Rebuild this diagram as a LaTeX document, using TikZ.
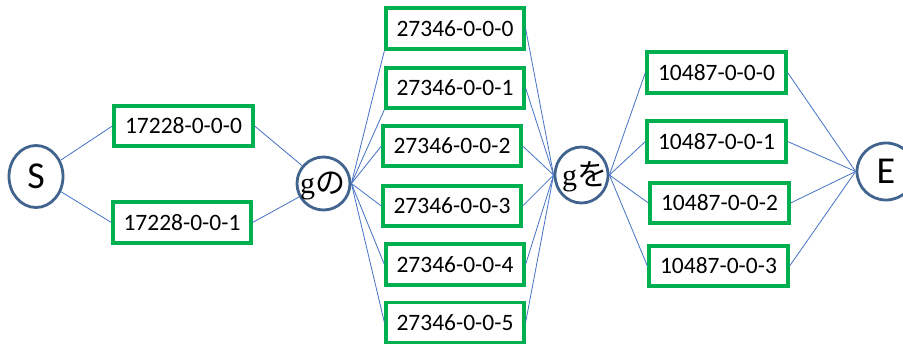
\documentclass[tikz,border=0pt]{standalone}
\usepackage{fontspec}
\setmainfont{Carlito}
\newfontfamily\cjk{Noto Sans CJK JP}
\newfontfamily\serifg{Liberation Serif}
\usetikzlibrary{shapes.geometric}
\definecolor{boxgreen}{HTML}{00B050}
\definecolor{circblue}{HTML}{41648F}
\definecolor{linkblue}{HTML}{4472C4}
\tikzset{
  idbox/.style={draw=boxgreen, line width=3.2pt, fill=white, rectangle, minimum width=138pt, minimum height=40pt, inner sep=0pt, font=\fontsize{23.5}{28}\selectfont},
  roundnode/.style={draw=circblue, line width=2.8pt, fill=white, ellipse, inner sep=0pt},
  endtext/.style={font=\fontsize{38}{40}\selectfont, inner sep=0pt},
  midtext/.style={font=\fontsize{30}{34}\selectfont, inner sep=0pt},
  link/.style={draw=linkblue, line width=0.8pt}
}
\begin{document}
\begin{tikzpicture}[x=1pt, y=-1pt]
\clip (0,0) rectangle (903,343);
\fill[white] (0,0) rectangle (903,343);
% circle nodes
\node[roundnode, minimum width=54pt, minimum height=62pt,
      label={[endtext]center:S}] (S) at (36,176.5) {};
\node[roundnode, minimum width=53pt, minimum height=53pt,
      label={[midtext, xshift=-1pt, yshift=-2pt]center:{\serifg g}{\cjk の}}] (gno) at (323.5,183.5) {};
\node[roundnode, minimum width=53pt, minimum height=56pt,
      label={[midtext, xshift=3pt, yshift=-2pt]center:{\serifg g}{\cjk を}}] (gwo) at (581.5,175) {};
\node[roundnode, minimum width=58pt, minimum height=57pt,
      label={[endtext]center:E}] (E) at (886,171.5) {};
% first column
\node[idbox, minimum width=139pt] (a0) at (183.5,126) {17228-0-0-0};
\node[idbox, minimum height=41pt] (a1) at (182,222.5) {17228-0-0-1};
% second column
\node[idbox, minimum height=41pt] (b0) at (455,28.5) {27346-0-0-0};
\node[idbox] (b1) at (455,88) {27346-0-0-1};
\node[idbox] (b2) at (452,146) {27346-0-0-2};
\node[idbox] (b3) at (452,206) {27346-0-0-3};
\node[idbox, minimum height=41pt] (b4) at (455,264.5) {27346-0-0-4};
\node[idbox] (b5) at (455,322.5) {27346-0-0-5};
% third column
\node[idbox, minimum width=139pt, minimum height=41pt] (c0) at (716.5,72.5) {10487-0-0-0};
\node[idbox, minimum width=139pt, minimum height=41pt] (c1) at (716.5,141.5) {10487-0-0-1};
\node[idbox, minimum width=139pt] (c2) at (719.5,203) {10487-0-0-2};
\node[idbox, minimum width=139pt] (c3) at (718.5,266) {10487-0-0-3};
% connectors
\path[link] (S) -- (a0.west);
\path[link] (S) -- (a1.west);
\path[link] (a0.east) -- (gno);
\path[link] (a1.east) -- (gno);
\path[link] (gno.east) -- (b0.south west);
\path[link] (gno.east) -- (b1.south west);
\path[link] (gno.east) -- (b2.west);
\path[link] (gno.east) -- (b3.west);
\path[link] (gno.east) -- (b4.west);
\path[link] (gno.east) -- (b5.west);
\path[link] (b0.east) -- (gwo.west);
\path[link] (b1.east) -- (gwo.west);
\path[link] (b2.east) -- (gwo.west);
\path[link] (b3.east) -- (gwo.west);
\path[link] (b4.east) -- (gwo.west);
\path[link] (b5.east) -- (gwo.west);
\path[link] (gwo.east) -- (c0.west);
\path[link] (gwo.east) -- (c1.west);
\path[link] (gwo.east) -- (c2.west);
\path[link] (gwo.east) -- (c3.west);
\path[link] (c0.east) -- (E.west);
\path[link] (c1.east) -- (E.west);
\path[link] (c2.east) -- (E.west);
\path[link] (c3.east) -- (E.west);
\end{tikzpicture}
\end{document}
